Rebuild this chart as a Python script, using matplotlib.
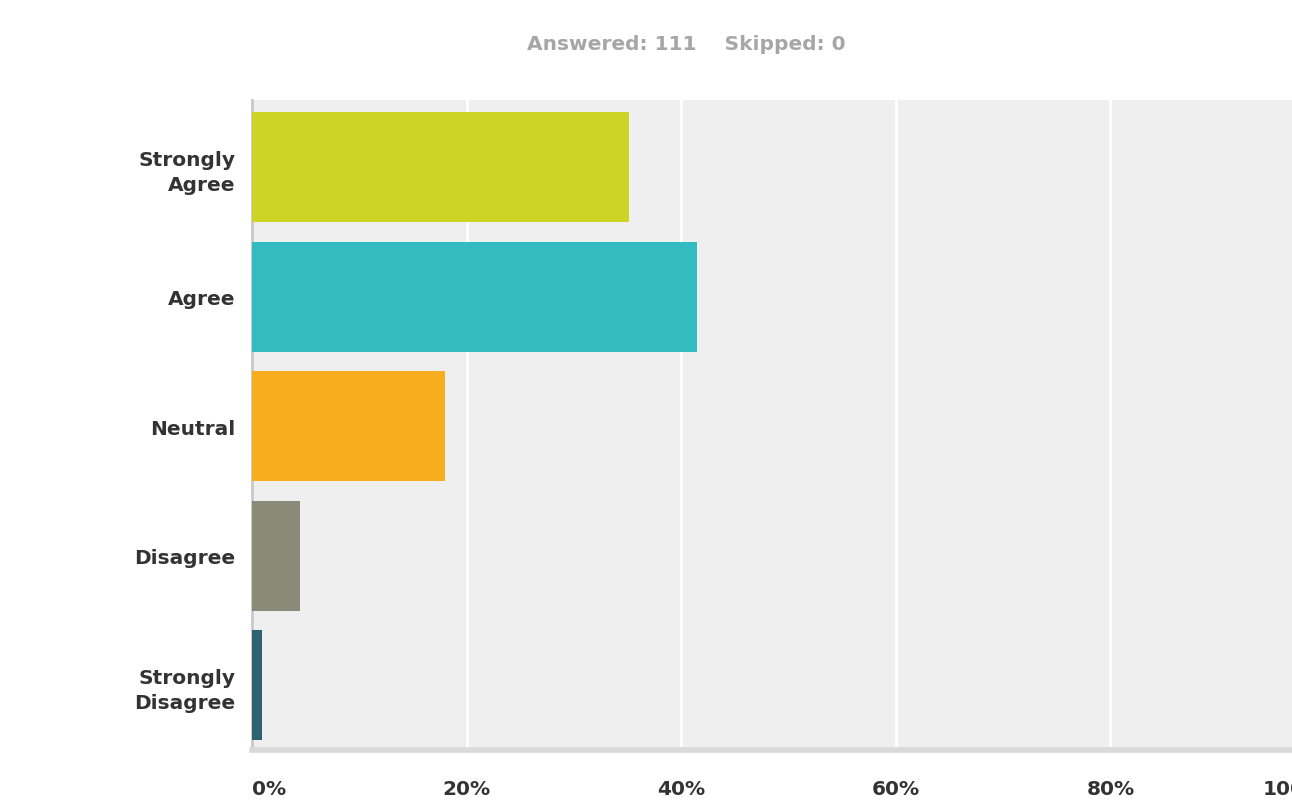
import matplotlib
matplotlib.use('Agg')
import matplotlib.pyplot as plt
import numpy as np

# survey responses (share of 111 answers)
categories = ['Strongly\nAgree', 'Agree', 'Neutral', 'Disagree', 'Strongly\nDisagree']
percent = [35.14, 41.44, 18.02, 4.50, 0.90]
bar_colors = ['#cdd426', '#32bcbf', '#f6ae1f', '#8a8a78', '#2f6270']
x_ticks = [0, 20, 40, 60, 80, 100]
x_tick_labels = ['0%', '20%', '40%', '60%', '80%', '100%']
subtitle = 'Answered: 111    Skipped: 0'

plt.rcParams['font.family'] = ['DejaVu Sans']

W, H = 1292, 803
fig = plt.figure(figsize=(W / 100, H / 100), dpi=100)
fig.patch.set_facecolor('white')

# plot area runs past the right edge of the image (100% is cut off)
left, right = 252 / W, 1325 / W
bottom, top = (H - 751) / H, (H - 101) / H
ax = fig.add_axes([left, bottom, right - left, top - bottom])
ax.set_facecolor('#efefef')

y = np.arange(len(categories))
ax.barh(y, percent, height=0.85, color=bar_colors, zorder=3)

ax.set_xlim(0, 100)
ax.set_ylim(4.5, -0.52)

ax.set_xticks(x_ticks)
ax.set_xticklabels(x_tick_labels)
ax.grid(True, axis='x', color='white', linewidth=2, zorder=1)
ax.set_axisbelow(True)

ax.set_yticks(y)
ax.set_yticklabels(categories, ha='right', linespacing=1.35)

ax.tick_params(axis='both', length=0, labelsize=14.5, labelcolor='#333333')
ax.tick_params(axis='y', pad=12)
ax.tick_params(axis='x', pad=21)
for lbl in ax.get_xticklabels() + ax.get_yticklabels():
    lbl.set_fontweight('bold')

# first/last x labels aligned to the plot edges
xl = ax.get_xticklabels()
xl[0].set_horizontalalignment('left')
xl[-1].set_horizontalalignment('right')

for s in ['top', 'right']:
    ax.spines[s].set_visible(False)
ax.spines['left'].set_color('#c8c8c8')
ax.spines['left'].set_linewidth(2)
ax.spines['bottom'].set_color('#d9d9d9')
ax.spines['bottom'].set_linewidth(4)

fig.text(686 / W, 1 - 45 / H, subtitle, ha='center', va='center',
         fontsize=14.5, fontweight='bold', color='#a6a6a6')

fig.savefig('out.png', dpi=100, facecolor='white')
plt.close(fig)
